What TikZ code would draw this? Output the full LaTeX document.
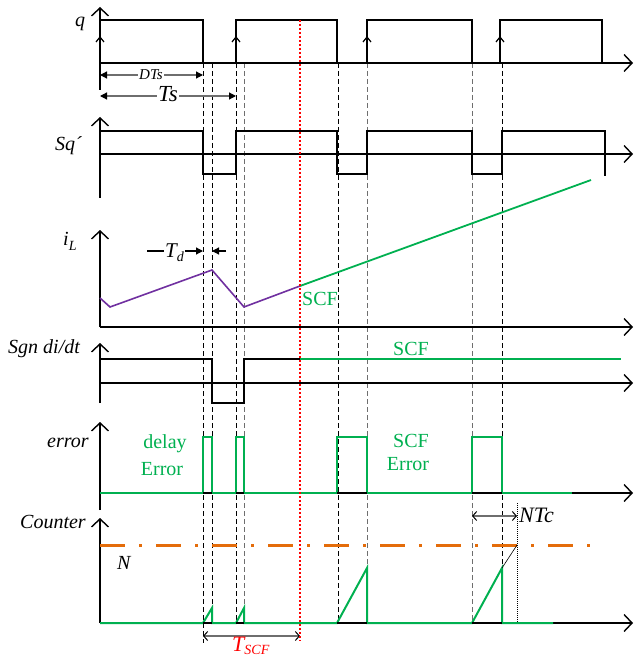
\documentclass[tikz,border=0pt]{standalone}
\usepackage{fontspec}
\setmainfont{Liberation Serif}
\usetikzlibrary{arrows.meta}
\definecolor{scfgreen}{RGB}{0,176,80}
\definecolor{ilpurple}{RGB}{112,48,160}
\definecolor{norange}{RGB}{228,108,10}
\definecolor{tred}{RGB}{255,0,0}
\definecolor{dimgray}{RGB}{110,110,110}
\begin{document}
\begin{tikzpicture}[x=1pt,y=-1pt,
  axis/.style={line width=1.4pt,-{Straight Barb[length=8pt,width=17pt,line width=1.4pt]}},
  wave/.style={line width=1.4pt,line join=miter},
  gwave/.style={scfgreen,line width=2pt,line join=miter},
  guide/.style={line width=0.8pt,dash pattern=on 5pt off 3pt},
  guidegray/.style={guide,dimgray},
  lbl/.style={font=\fontsize{20}{24}\selectfont\itshape,inner sep=0pt,anchor=base west},
  glbl/.style={font=\fontsize{20}{24}\selectfont,inner sep=0pt,anchor=base,text=scfgreen},
  dimarrow/.style={dimgray,line width=1.2pt,{Triangle[length=7pt,width=7pt,color=black]}-{Triangle[length=7pt,width=7pt,color=black]}},
  openarrow/.style={dimgray,line width=1.2pt,{Straight Barb[length=4pt,width=9pt,line width=1pt,color=black]}-{Straight Barb[length=4pt,width=9pt,line width=1pt,color=black]}},
  edgemark/.style={line width=1.2pt}
]
\useasboundingbox (0,0) rectangle (634,660);

% ---------- guide lines ----------
\draw[guide] (203,63) -- (203,643);
\draw[guide] (212,63) -- (212,623);
\draw[guide] (236,63) -- (236,623);
\draw[guidegray] (244,63) -- (244,623);
\draw[guide] (338,63) -- (338,623);
\draw[guidegray] (367,63) -- (367,623);
\draw[guidegray] (472,63) -- (472,623);
\draw[guide] (502,63) -- (502,623);

% ---------- q ----------
\draw[axis] (100,90) -- (100,7);
\draw[axis] (100,63) -- (633,63);
\draw[wave] (100,63) -- (100,20) -- (203,20) -- (203,63);
\draw[wave] (236,63) -- (236,20) -- (337,20) -- (337,63);
\draw[wave] (367,63) -- (367,20) -- (472,20) -- (472,63);
\draw[wave] (500,63) -- (500,20) -- (602,20) -- (602,63);
\foreach \xx in {100,236,367,500} \draw[edgemark] (\xx-4,42) -- (\xx,37) -- (\xx+4,42);
\node[lbl] (lq) at (75,27) {q};

\draw[dimarrow] (100,75) -- (203,75);
\node[font=\fontsize{15}{18}\selectfont\itshape,fill=white,inner sep=1pt,anchor=base] (ldts) at (151,80) {DTs};
\draw[dimarrow] (100,96) -- (236,96);
\node[font=\fontsize{23}{26}\selectfont\itshape,fill=white,inner sep=1pt,anchor=base] (lts) at (168,102) {Ts};

% ---------- Sq' ----------
\draw[axis] (100,198) -- (100,117);
\draw[axis] (100,154) -- (633,154);
\draw[wave] (100,131) -- (203,131) -- (203,174) -- (236,174) -- (236,131) -- (337,131) -- (337,174) -- (367,174) -- (367,131) -- (472,131) -- (472,174) -- (502,174) -- (502,131) -- (605,131) -- (605,176);
\node[lbl] (lsq) at (55,151) {Sq´};

% ---------- iL ----------
\draw[axis] (100,327) -- (100,230);
\draw[axis] (100,327) -- (633,327);
\draw[ilpurple,line width=1.6pt] (100,298) -- (110,307) -- (212,270) -- (244,307) -- (300,286);
\draw[scfgreen,line width=1.8pt] (300,286) -- (591,180);
\node[lbl] (lil) at (63,245) {i\raisebox{-5pt}{\fontsize{14}{14}\selectfont L}};
\node[glbl,anchor=base west] (lscf1) at (302,305) {SCF};
\draw[black,line width=1.2pt,-{Triangle[length=7pt,width=7pt]}] (147,251) -- (203,251);
\node[font=\fontsize{21}{24}\selectfont\itshape,fill=white,inner sep=1pt,anchor=base west] (ltd) at (164,257) {T\raisebox{-4pt}{\fontsize{14}{14}\selectfont d}};
\draw[black,line width=1.2pt,-{Triangle[length=7pt,width=7pt]}] (226,251) -- (212,251);

% ---------- Sgn di/dt ----------
\draw[axis] (100,403) -- (100,343);
\draw[axis] (100,383) -- (633,383);
\draw[wave] (100,359) -- (212,359) -- (212,403) -- (244,403) -- (244,359) -- (300,359);
\draw[gwave] (300,359) -- (621,359);
\node[lbl] (lsgn) at (8,353) {Sgn di/dt};
\node[glbl,anchor=base west] (lscf2) at (393,355) {SCF};

% ---------- error ----------
\draw[axis] (100,510) -- (100,422);
\draw[axis] (100,493) -- (633,493);
\draw[gwave] (100,493) -- (203,493) -- (203,437) -- (212,437) -- (212,493) -- (236,493) -- (236,437) -- (244,437) -- (244,493) -- (337,493) -- (337,437) -- (367,437) -- (367,493) -- (472,493) -- (472,437) -- (502,437) -- (502,493) -- (572,493);
\draw[black,line width=1.4pt] (203,493) -- (212,493) (236,493) -- (244,493) (337,493) -- (367,493) (472,493) -- (502,493);
\node[lbl] (lerr) at (47,447) {error};
\node[glbl] (ldelay) at (165,448) {delay};
\node[glbl] (lderr) at (162,475) {Error};
\node[glbl] (lscf3) at (411,447) {SCF};
\node[glbl] (lserr) at (408,470) {Error};

% ---------- Counter ----------
\draw[axis] (100,623) -- (100,518);
\draw[axis] (100,623) -- (633,623);
\draw[norange,line width=3pt,dash pattern=on 25pt off 14pt on 3pt off 14pt] (100,545) -- (596,545);
\draw[gwave] (100,623) -- (203,623) -- (212,608) -- (212,623) -- (236,623) -- (244,608) -- (244,623) -- (337,623) -- (367,568) -- (367,623) -- (472,623) -- (502,568) -- (502,623) -- (553,623);
\draw[black,line width=1.4pt] (203,623) -- (212,623) (236,623) -- (244,623) (337,623) -- (367,623) (472,623) -- (502,623);
\draw[black,line width=0.6pt] (502,568) -- (517,545);
\draw[black,line width=0.7pt,dash pattern=on 1pt off 1pt] (517,503) -- (517,623);
\draw[openarrow] (472,516) -- (517,516);
\node[lbl,font=\fontsize{22}{24}\selectfont\itshape] (lntc) at (519,522) {NTc};
\node[lbl] (lcnt) at (20,528) {Counter};
\node[lbl] (ln) at (117,569) {N};

% ---------- T_SCF ----------
\draw[openarrow] (203,636) -- (300,636);
\node[lbl,text=tred,font=\fontsize{22}{24}\selectfont\itshape] (ltscf) at (232,651) {T\raisebox{-3pt}{\fontsize{14}{14}\selectfont SCF}};

% red line
\draw[tred,line width=1.6pt,dash pattern=on 2pt off 2pt] (300,20) -- (300,641);
\end{tikzpicture}
\end{document}
